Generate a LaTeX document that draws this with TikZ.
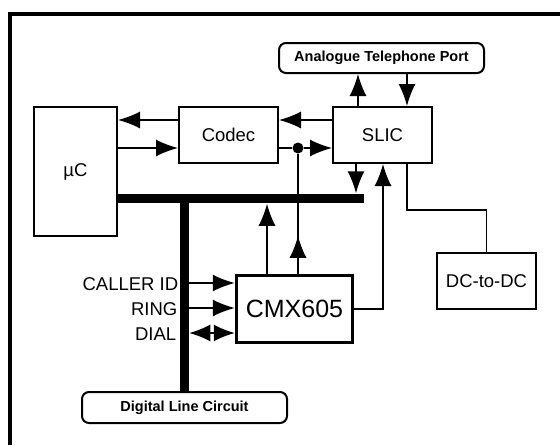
\documentclass[tikz,border=0pt]{standalone}
\usepackage{fontspec}
\setmainfont{Liberation Sans}
\usetikzlibrary{arrows.meta,positioning}

\begin{document}
\begin{tikzpicture}[x=1pt, y=-1pt, line width=1.5pt,
	every node/.style={rectangle, inner sep=0pt, font=\fontsize{18.5}{22}\selectfont},
	box/.style={draw, line width=2pt},
	port/.style={draw, line width=2pt, rounded corners=7pt, font=\fontsize{14.5}{17}\selectfont\bfseries},
	busbar/.style={fill=black, minimum size=0pt},
	arr/.style={-{Latex[length=22pt,width=17pt]}}]
					\useasboundingbox (0,0) rectangle (560,445);
					\draw[line width=4pt] (9.5,445) -- (9.5,14) -- (560,14);
					\coordinate (rowA) at (0,120);
					\coordinate (rowB) at (0,148);
					\node (mc) at (75.5,171.5) [box, minimum width=83, minimum height=129] {µC};
					\node (codec) at (228.5,135) [box, minimum width=99, minimum height=56] {Codec};
					\node (slic) at (382.5,135) [box, minimum width=99, minimum height=56] {SLIC};
					\node (atp) at (381.5,58) [port, minimum width=205, minimum height=30] {Analogue Telephone Port};
					\node (dcdc) at (486.5,281) [box, minimum width=99, minimum height=56] {DC-to-DC};
					\node (cmx) at (294.5,309) [draw, line width=3.5pt, minimum width=116, minimum height=67, font=\fontsize{25}{30}\selectfont] {CMX605};
					\node (dlc) at (184.5,407.5) [port, minimum width=205, minimum height=31] {Digital Line Circuit};
					\node (hbus) at (240.5,198.5) [busbar, minimum width=247, minimum height=9] {};
					\node (vbus) at (184,295) [busbar, minimum width=9, minimum height=194] {};
					\node (dot) at (298,148) [circle, fill=black, minimum size=11] {};
					\draw[arr] (codec.west |- rowA) -- (mc.east |- rowA);
					\draw[arr] (mc.east |- rowB) -- (codec.west |- rowB);
					\draw[arr] (slic.west |- rowA) -- (codec.east |- rowA);
					\draw (codec.east |- rowB) -- (dot);
					\draw[arr] (dot) -- (slic.west |- rowB);
					\draw[arr] (slic.north -| 358,0) -- (atp.south -| 358,0);
					\draw[arr] (atp.south -| 407,0) -- (slic.north -| 407,0);
					\draw[arr] (slic.south -| 356,0) -- (hbus.north -| 356,0);
					\draw (slic.south -| 407,0) -- ++(0,46) -| (dcdc.north);
					\draw[arr] (cmx.east) -| (slic.south -| 383,0);
					\draw[arr] (cmx.north -| 267,0) -- (hbus.south -| 267,0);
					\draw (cmx.north -| dot) -- (dot);
					\draw[arr] (cmx.north -| dot) -- ++(0,-38);
					\node (callerid) at (179,284) [anchor=east] {CALLER ID};
					\node (ring) at (178,309) [anchor=east] {RING};
					\node (dial) at (177,334) [anchor=east] {DIAL};
					\draw[arr] (vbus.east |- 0,283) -- (cmx.west |- 0,283);
					\draw[arr] (vbus.east |- 0,308) -- (cmx.west |- 0,308);
					\draw[{Latex[length=21pt,width=17pt]}-{Latex[length=21pt,width=17pt]}] (vbus.east |- 0,333) -- (cmx.west |- 0,333);
				\end{tikzpicture}
\end{document}
